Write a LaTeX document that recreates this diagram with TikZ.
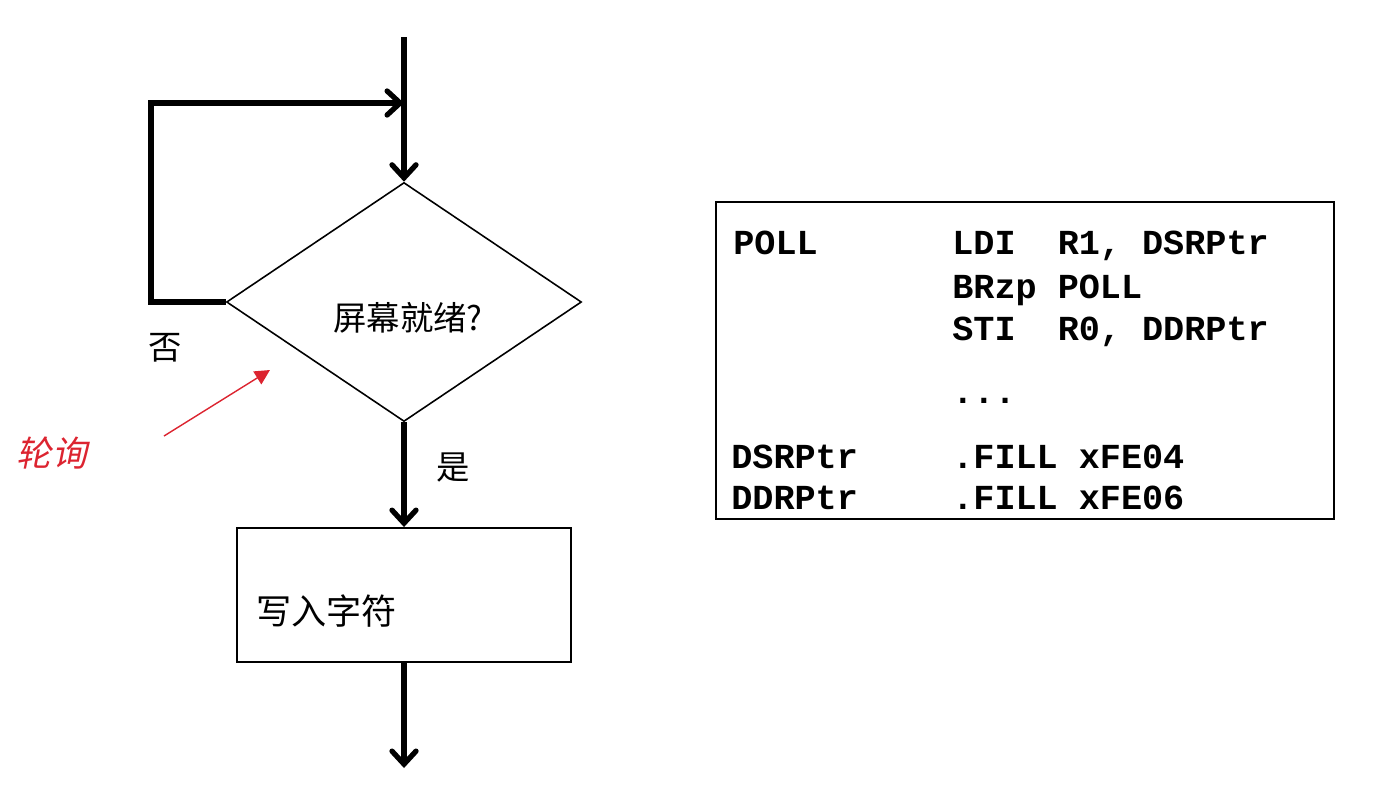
\documentclass[tikz,border=0pt]{standalone}
\usepackage{fontspec}
\setmainfont{Liberation Sans}
\setmonofont{Liberation Mono}
\newfontfamily\cjk{Noto Sans CJK SC}
\newfontfamily\cjkslant[FakeSlant=0.2]{Noto Sans CJK SC}
\usetikzlibrary{arrows.meta, shapes.geometric}
\definecolor{poll-red}{HTML}{DC2430}

\begin{document}
\begin{tikzpicture}[
    flow/.style={line width=3pt, line join=miter,
      -{Straight Barb[length=2.6mm, width=4.8mm, line cap=round]}},
    outline/.style={draw, line width=1.1pt},
    cjktext/.style={font=\cjk\fontsize{19}{22}\selectfont},
    codetext/.style={font=\ttfamily\bfseries\fontsize{20}{24}\selectfont, anchor=base west, inner sep=0pt}]
    \useasboundingbox (0,0) rectangle (27.46,-16.04);
    % flow chart
    \coordinate (top) at (8.08,-0.74);
    \coordinate (join) at (8.08,-2.06);
    \coordinate (loop) at (3.02,-2.06);
    \coordinate (exit) at (8.08,-15.36);
    \node[diamond, draw, line width=0.9pt, inner sep=0pt, minimum width=7.1cm,
          minimum height=4.78cm] (ready) at (8.08,-6.04) {};
    \node[cjktext] (readytext) at (8.16,-6.36) {屏幕就绪?};
    \node[outline, minimum width=6.68cm, minimum height=2.68cm] (write) at (8.08,-11.9) {};
    \node[cjktext, anchor=west, font=\cjk\fontsize{20}{24}\selectfont] (writetext) at (5.0,-12.22) {写入字符};
    \draw[flow] (top) -- (ready.north);
    \draw[flow] (ready.west) -| (loop) -- (join);
    \draw[flow] (ready.south) -- (write.north);
    \draw[flow] (write.south) -- (exit);
    \node[cjktext] (no) at (3.3,-6.96) {否};
    \node[cjktext] (yes) at (9.06,-9.34) {是};
    % polling note
    \node[font=\cjkslant\fontsize{20}{24}\selectfont, text=poll-red] (poll) at (1.04,-9.06) {轮询};
    \coordinate (polltail) at (3.28,-8.72);
    \coordinate (pollhead) at (5.4,-7.4);
    \draw[poll-red, line width=0.8pt, -{Triangle[length=3mm, width=3mm]}] (polltail) -- (pollhead);
    % LC-3 code
    \node[outline, minimum width=12.36cm, minimum height=6.34cm] (code) at (20.5,-7.21) {};
    \node[codetext] (lbl1) at (14.66,-5.08) {POLL};
    \node[codetext] (ins1) at (19.04,-5.08) {LDI\ \ R1, DSRPtr};
    \node[codetext] (ins2) at (19.04,-5.96) {BRzp POLL};
    \node[codetext] (ins3) at (19.04,-6.8) {STI\ \ R0, DDRPtr};
    \node[codetext] (ins4) at (19.04,-8.06) {...};
    \node[codetext] (lbl2) at (14.62,-9.36) {DSRPtr};
    \node[codetext] (ins5) at (19.04,-9.36) {.FILL xFE04};
    \node[codetext] (lbl3) at (14.62,-10.18) {DDRPtr};
    \node[codetext] (ins6) at (19.04,-10.18) {.FILL xFE06};
\end{tikzpicture}
\end{document}
